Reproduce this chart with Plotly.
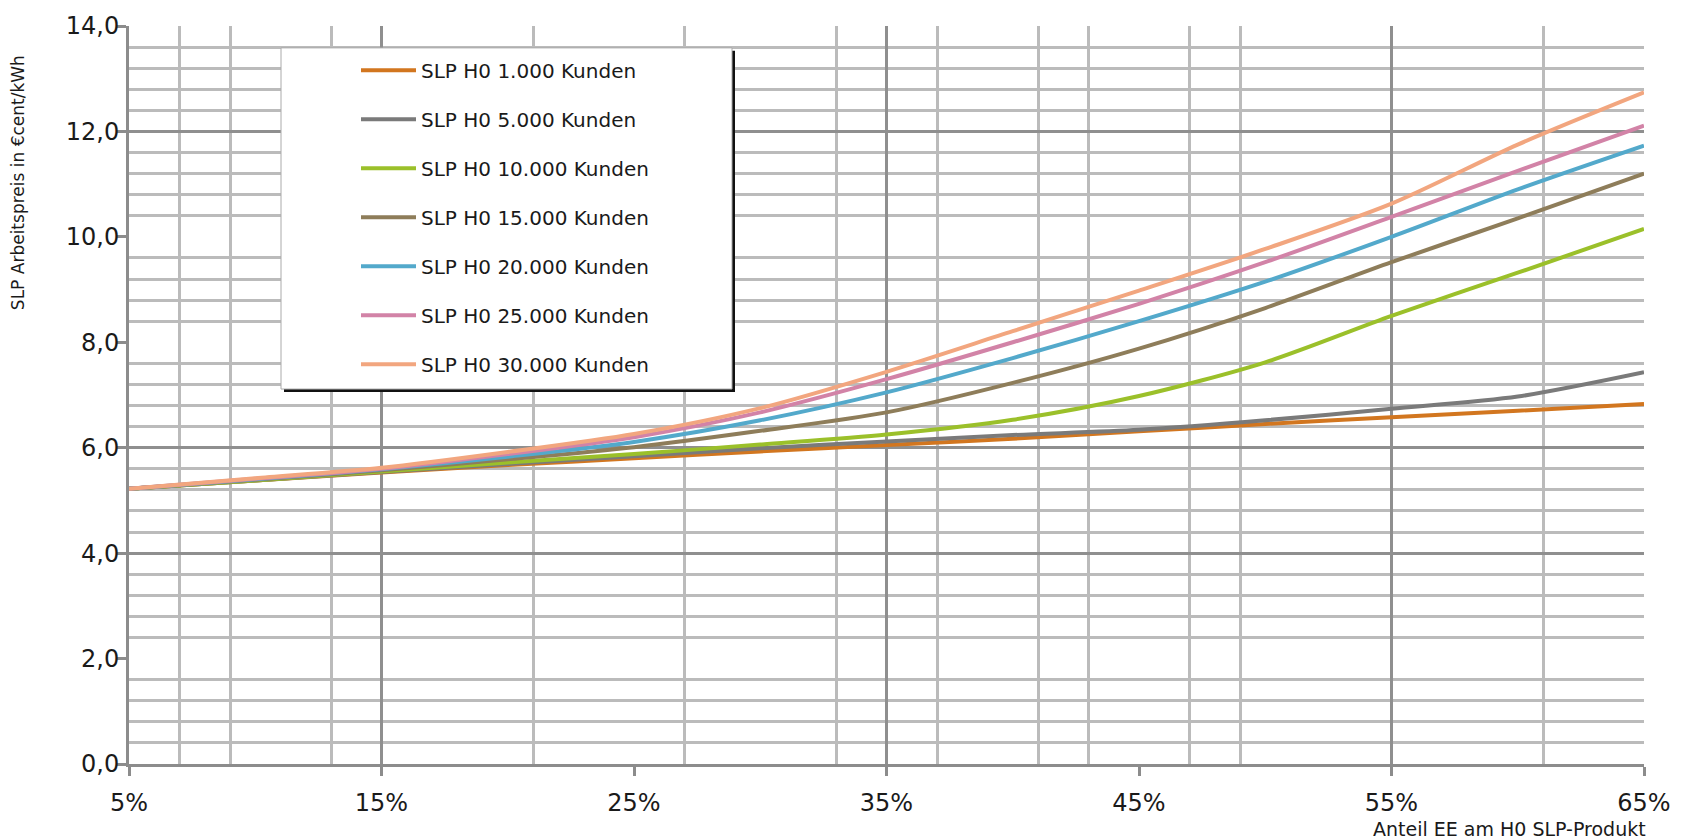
import numpy as np
import plotly.graph_objects as go

# ---- data ----
anteil_ee = [5, 10, 15, 20, 25, 30, 35, 40, 45, 50, 55, 60, 65]  # % share
series_names = [
    "SLP H0 1.000 Kunden",
    "SLP H0 5.000 Kunden",
    "SLP H0 10.000 Kunden",
    "SLP H0 15.000 Kunden",
    "SLP H0 20.000 Kunden",
    "SLP H0 25.000 Kunden",
    "SLP H0 30.000 Kunden",
]
kunden_1000 = [5.22, 5.38, 5.53, 5.67, 5.80, 5.93, 6.05, 6.17, 6.31, 6.45, 6.58, 6.70, 6.83]
kunden_5000 = [5.22, 5.38, 5.54, 5.69, 5.84, 5.99, 6.12, 6.24, 6.34, 6.52, 6.74, 6.97, 7.43]
kunden_10000 = [5.22, 5.38, 5.55, 5.72, 5.88, 6.06, 6.25, 6.53, 6.98, 7.62, 8.50, 9.32, 10.15]
kunden_15000 = [5.22, 5.39, 5.57, 5.78, 6.01, 6.32, 6.67, 7.23, 7.88, 8.65, 9.52, 10.35, 11.20]
kunden_20000 = [5.22, 5.40, 5.59, 5.83, 6.11, 6.52, 7.05, 7.70, 8.40, 9.15, 10.00, 10.90, 11.73]
kunden_25000 = [5.22, 5.41, 5.60, 5.88, 6.20, 6.67, 7.30, 8.00, 8.73, 9.52, 10.38, 11.25, 12.11]
kunden_30000 = [5.22, 5.42, 5.62, 5.92, 6.26, 6.75, 7.44, 8.21, 8.98, 9.77, 10.63, 11.75, 12.74]
series_values = [kunden_1000, kunden_5000, kunden_10000, kunden_15000,
                 kunden_20000, kunden_25000, kunden_30000]

x_ticks = [5, 15, 25, 35, 45, 55, 65]
x_ticktext = [f"{v}%" for v in x_ticks]
y_ticks = [0, 2, 4, 6, 8, 10, 12, 14]

# ---- styling ----
colors = ["#D2761F", "#7A7A7A", "#9BC02A", "#8E7D5A", "#53A9CB", "#D283A7", "#F2A67F"]
FONT = "DejaVu Sans"
W, H = 1687, 840
ML, MR, MT, MB = 129, 43, 22, 76
PW, PH = W - ML - MR, H - MT - MB

def px_x(p):
    return (p - ML) / PW

def px_y(p):
    return (H - MB - p) / PH

# gridline positions as seen in the picture
x_minor_grid = [7, 9, 13, 21, 27, 33, 37, 41, 43, 47, 49, 61]
x_major_grid = [15, 35, 55]
y_steps = np.round(np.arange(0.4, 14.0, 0.4), 1)
y_minor_grid = [float(v) for v in y_steps if abs(v / 2 - round(v / 2)) > 1e-6]
y_major_grid = [4, 6, 12, 14]

fig = go.Figure()
for i, (name, vals) in enumerate(zip(series_names, series_values)):
    fig.add_trace(go.Scatter(
        x=anteil_ee, y=vals, name=name, mode="lines",
        line=dict(color=colors[i], width=4, shape="spline", smoothing=0.8),
        legendgroup=f"g{i}",
    ))
# helper trace so the overlay axes (major grid) are drawn
fig.add_trace(go.Scatter(x=[None], y=[None], xaxis="x2", yaxis="y2",
                         showlegend=False, hoverinfo="skip"))

grid_minor = "#BBBBBB"
grid_major = "#8F8F8F"
axis_col = "#8C8C8C"

fig.update_layout(
    width=W, height=H,
    margin=dict(l=ML, r=MR, t=MT, b=MB),
    paper_bgcolor="white", plot_bgcolor="white",
    separators=",.",
    font=dict(family=FONT, color="#1A1A1A"),
    showlegend=True,
    legend=dict(
        x=px_x(356), y=px_y(47), xanchor="left", yanchor="top",
        bgcolor="rgba(0,0,0,0)", borderwidth=0,
        font=dict(family=FONT, size=20, color="#1A1A1A"),
        tracegroupgap=20, itemwidth=55, traceorder="grouped",
    ),
    xaxis=dict(
        range=[5, 65], tickvals=x_ticks, ticktext=x_ticktext,
        showgrid=False, zeroline=False,
        showline=True, linecolor=axis_col, linewidth=3,
        ticks="outside", ticklen=9, tickwidth=3, tickcolor=axis_col,
        tickfont=dict(family=FONT, size=24, color="#1A1A1A"),
        ticklabelstandoff=6,
        minor=dict(tickmode="array", tickvals=x_minor_grid, showgrid=True,
                   gridcolor=grid_minor, gridwidth=3, ticks=""),
    ),
    yaxis=dict(
        range=[0, 14], tickvals=y_ticks, tickformat=".1f",
        showgrid=False, zeroline=False,
        showline=True, linecolor=axis_col, linewidth=3,
        ticks="outside", ticklen=9, tickwidth=3, tickcolor=axis_col,
        tickfont=dict(family=FONT, size=24, color="#1A1A1A"),
        ticklabelstandoff=-7,
        minor=dict(tickmode="array", tickvals=y_minor_grid, showgrid=True,
                   gridcolor=grid_minor, gridwidth=3, ticks=""),
    ),
    xaxis2=dict(
        overlaying="x", range=[5, 65], tickvals=x_major_grid,
        showgrid=True, gridcolor=grid_major, gridwidth=2.5,
        showticklabels=False, ticks="", showline=False, zeroline=False,
    ),
    yaxis2=dict(
        overlaying="y", range=[0, 14], tickvals=y_major_grid,
        showgrid=True, gridcolor=grid_major, gridwidth=2.5,
        showticklabels=False, ticks="", showline=False, zeroline=False,
    ),
    shapes=[
        # legend box shadow
        dict(type="rect", xref="paper", yref="paper", layer="above",
             x0=px_x(284), x1=px_x(735), y0=px_y(390), y1=px_y(47),
             fillcolor="#111111", line=dict(width=0)),
        # legend box
        dict(type="rect", xref="paper", yref="paper", layer="above",
             x0=px_x(281), x1=px_x(732), y0=px_y(387), y1=px_y(44),
             fillcolor="white", line=dict(color="#AAAAAA", width=1)),
    ],
    annotations=[
        dict(text="SLP Arbeitspreis in €cent/kWh", xref="paper", yref="paper",
             x=px_x(18), y=px_y(180), xanchor="center", yanchor="middle",
             textangle=-90, showarrow=False,
             font=dict(family=FONT, size=17, color="#1A1A1A")),
        dict(text="Anteil EE am H0 SLP-Produkt", xref="paper", yref="paper",
             x=px_x(1648), y=px_y(829), xanchor="right", yanchor="middle",
             showarrow=False,
             font=dict(family=FONT, size=19, color="#1A1A1A")),
    ],
)

fig.write_html("out.html", config={"displayModeBar": False},
               post_script="document.body.style.margin='0';")
